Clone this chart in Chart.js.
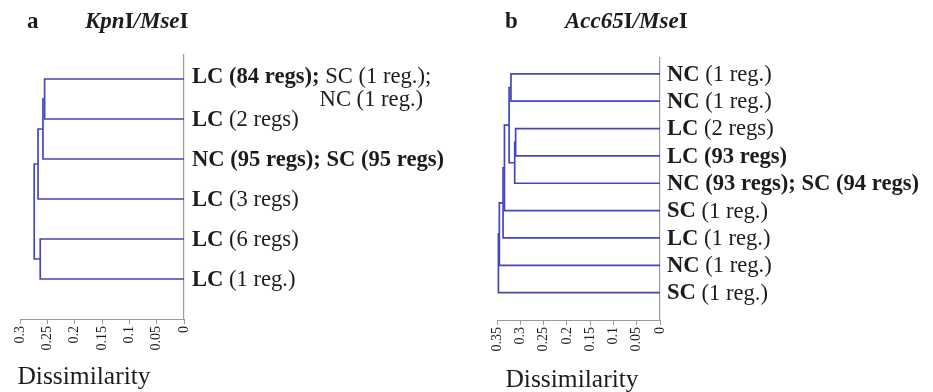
<!DOCTYPE html>
<html>
<head>
<meta charset="utf-8">
<script src="https://cdn.jsdelivr.net/npm/chart.js@4.4.1/dist/chart.umd.min.js"></script>
<style>
  html, body { margin: 0; padding: 0; background: #fff; }
  #wrap { position: relative; width: 933px; height: 392px; }
  .panel { position: absolute; top: 0; height: 392px; }
</style>
</head>
<body>
<div id="wrap">
  <div class="panel" style="left:0;width:466px"><canvas id="chartA"></canvas></div>
  <div class="panel" style="left:466px;width:467px"><canvas id="chartB"></canvas></div>
</div>
<script>
// Leaf labels, top to bottom. **bold** parts, \n = second line
const leavesA = [
  '**LC (84 regs);** SC (1 reg.);\nNC (1 reg.)',
  '**LC** (2 regs)',
  '**NC (95 regs); SC (95 regs)**',
  '**LC** (3 regs)',
  '**LC** (6 regs)',
  '**LC** (1 reg.)'
];
// merges: [child a, child b, dissimilarity]; leaves are 0..n-1, new clusters n, n+1, ...
const mergesA = [
  [0, 1, 0.255],
  [6, 2, 0.258],
  [7, 3, 0.267],
  [4, 5, 0.263],
  [8, 9, 0.274]
];
const ticksA = ['0', '0.05', '0.1', '0.15', '0.2', '0.25', '0.3'];

const leavesB = [
  '**NC** (1 reg.)',
  '**NC** (1 reg.)',
  '**LC** (2 regs)',
  '**LC (93 regs)**',
  '**NC (93 regs); SC (94 regs)**',
  '**SC** (1 reg.)',
  '**LC** (1 reg.)',
  '**NC** (1 reg.)',
  '**SC** (1 reg.)'
];
const mergesB = [
  [0, 1, 0.320],
  [2, 3, 0.310],
  [10, 4, 0.312],
  [9, 11, 0.324],
  [12, 5, 0.334],
  [13, 6, 0.337],
  [14, 7, 0.345],
  [15, 8, 0.347]
];
const ticksB = ['0', '0.05', '0.1', '0.15', '0.2', '0.25', '0.3', '0.35'];

const LINE = '#4646bc';
const AXIS = '#9a9a9a';
const TEXT = '#1c1c1c';
const SERIF = '"Liberation Serif", "DejaVu Serif", serif';

// turn merges into bracket polylines
function buildBrackets(n, merges) {
  const nodes = [];
  for (let i = 0; i < n; i++) nodes.push({ y: i, h: 0 });
  const sets = [];
  merges.forEach(([a, b, h]) => {
    const A = nodes[a], B = nodes[b];
    sets.push({
      data: [{ x: A.h, y: A.y }, { x: h, y: A.y }, { x: h, y: B.y }, { x: B.h, y: B.y }],
      borderColor: LINE,
      borderWidth: 1.7,
      pointRadius: 0,
      showLine: true,
      tension: 0,
      fill: false
    });
    nodes.push({ y: (A.y + B.y) / 2, h: h });
  });
  return sets;
}

function drawParts(ctx, str, x, y, size) {
  const bits = str.split('**');
  bits.forEach((t, i) => {
    if (!t) return;
    ctx.font = (i % 2 ? 'bold ' : '') + size + 'px ' + SERIF;
    ctx.fillText(t, x, y);
    x += ctx.measureText(t).width;
  });
}

function makeChart(id, leaves, merges, tickLabels, cfg) {
  const labelPlugin = {
    id: 'leafLabels',
    afterDraw(chart) {
      const ctx = chart.ctx;
      const ys = chart.scales.y;
      const area = chart.chartArea;
      ctx.save();
      ctx.fillStyle = TEXT;
      ctx.textBaseline = 'middle';
      ctx.textAlign = 'left';
      leaves.forEach((lab, i) => {
        const y = ys.getPixelForValue(i);
        const x0 = area.right + cfg.labelGap;
        const lines = lab.split('\n');
        if (lines.length > 1) {
          drawParts(ctx, lines[0], x0, y - 2, cfg.labelSize);
          // second line starts under the last plain part of the first line
          const bits = lines[0].split('**');
          const lead = bits.slice(0, bits.length - 1);
          let w = 0;
          lead.forEach((t, k) => {
            ctx.font = (k % 2 ? 'bold ' : '') + cfg.labelSize + 'px ' + SERIF;
            w += ctx.measureText(t).width;
          });
          drawParts(ctx, lines[1], x0 + w, y + 21, cfg.labelSize);
        } else {
          drawParts(ctx, lab, x0, y + 1, cfg.labelSize);
        }
      });
      // axis title
      ctx.font = cfg.axisSize + 'px ' + SERIF;
      ctx.textAlign = 'center';
      ctx.textBaseline = 'alphabetic';
      ctx.fillText('Dissimilarity', cfg.axisTitleX, cfg.axisTitleY);
      // panel title
      ctx.textAlign = 'left';
      ctx.font = 'bold ' + cfg.titleSize + 'px ' + SERIF;
      ctx.fillText(cfg.letter, cfg.letterX, 28);
      let x = cfg.nameX;
      cfg.name.forEach(([t, it]) => {
        ctx.font = (it ? 'italic ' : '') + 'bold ' + cfg.titleSize + 'px ' + SERIF;
        ctx.fillText(t, x, 28);
        x += ctx.measureText(t).width;
      });
      ctx.restore();
    }
  };

  return new Chart(document.getElementById(id), {
    type: 'scatter',
    data: { datasets: buildBrackets(leaves.length, merges) },
    options: {
      responsive: true,
      maintainAspectRatio: false,
      animation: false,
      layout: { padding: { left: cfg.left, right: cfg.right, top: cfg.top, bottom: 0 } },
      plugins: { legend: { display: false }, tooltip: { enabled: false } },
      scales: {
        x: {
          type: 'linear',
          min: 0,
          max: cfg.xmax,
          reverse: true,
          afterFit: (s) => { s.height = 392 - cfg.bottom; },
          border: { display: true, color: AXIS, width: 1 },
          grid: { display: true, drawOnChartArea: false, drawTicks: true, tickLength: 5, color: AXIS },
          ticks: {
            stepSize: 0.05,
            autoSkip: false,
            minRotation: 90,
            maxRotation: 90,
            padding: 2,
            color: TEXT,
            font: { family: SERIF, size: 14 },
            callback: (v) => tickLabels.find(t => Math.abs(Number(t) - v) < 1e-6)
          }
        },
        y: {
          type: 'linear',
          position: 'right',
          min: cfg.ymin,
          max: cfg.ymax,
          reverse: true,
          afterFit: (s) => { s.width = 0; },
          border: { display: true, color: AXIS, width: 1.2 },
          grid: { display: false },
          ticks: { display: false }
        }
      }
    },
    plugins: [labelPlugin]
  });
}

makeChart('chartA', leavesA, mergesA, ticksA, {
  left: 20, right: 466 - 184, top: 55, bottom: 319,
  xmax: 0.3, ymin: -0.6, ymax: 6,
  labelGap: 8, labelSize: 22.6, axisSize: 25.5,
  axisTitleX: 84, axisTitleY: 384,
  letter: 'a', letterX: 27, titleSize: 23, nameX: 85,
  name: [['Kpn', 1], ['I', 0], ['/', 1], ['Mse', 1], ['I', 0]]
});

makeChart('chartB', leavesB, mergesB, ticksB, {
  left: 31, right: 467 - 194, top: 58, bottom: 320,
  xmax: 0.35, ymin: -0.58, ymax: 9,
  labelGap: 7, labelSize: 22.6, axisSize: 25.5,
  axisTitleX: 106, axisTitleY: 387,
  letter: 'b', letterX: 39, titleSize: 23, nameX: 99,
  name: [['Acc65', 1], ['I', 0], ['/', 1], ['Mse', 1], ['I', 0]]
});
</script>
</body>
</html>
